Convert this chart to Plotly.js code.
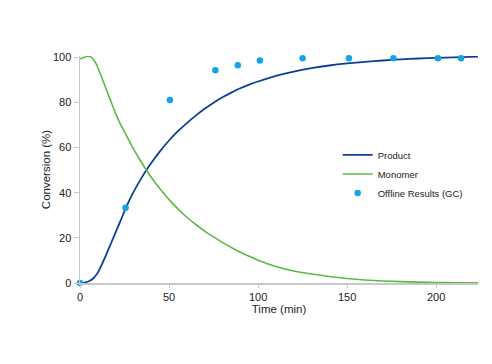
<!DOCTYPE html>
<html>
<head>
<meta charset="utf-8">
<script src="https://cdn.plot.ly/plotly-3.0.1.min.js"></script>
<style>html,body{margin:0;padding:0;background:#fff;}#chart{width:492px;height:364px;}</style>
</head>
<body>
<div id="chart"></div>
<script>
var productTime = [0, 2.5, 5, 7.5, 10, 12.5, 15, 17.5, 20, 22.5, 25, 27.5, 30, 32.5, 35, 37.5, 40, 45, 50, 55, 60, 65, 70, 75, 80, 85, 90, 95, 100, 110, 120, 130, 140, 150, 160, 170, 180, 190, 200, 210, 223.5];
var productValues = [0, 0.2, 0.8, 2.1, 4.6, 8.6, 13.1, 17.7, 22.4, 27.1, 31.8, 36.2, 40.2, 43.8, 47.1, 50.2, 53.1, 58.4, 63.1, 67.2, 70.8, 74.1, 77.1, 79.8, 82.2, 84.3, 86.2, 87.8, 89.2, 91.7, 93.6, 95.1, 96.3, 97.2, 97.9, 98.5, 99.0, 99.4, 99.7, 99.9, 100.2];

var monomerTime = [0, 1, 2, 3, 4, 5, 6, 7, 8, 9, 10, 11, 13, 15, 17.5, 20, 22.5, 25, 27.5, 30, 32.5, 35, 37.5, 40, 45, 50, 55, 60, 65, 70, 75, 80, 85, 90, 95, 100, 110, 120, 130, 140, 150, 160, 170, 180, 190, 200, 210, 223.5];
var monomerValues = [99.3, 99.5, 99.8, 100.1, 100.3, 100.35, 100.1, 99.5, 98.5, 97.1, 95.4, 93.5, 89.4, 85.2, 80.1, 75.1, 70.7, 66.9, 63.1, 59.4, 56.0, 52.8, 49.7, 46.8, 41.6, 36.9, 32.8, 29.1, 25.9, 23.0, 20.4, 18.0, 15.7, 13.6, 11.8, 10.1, 7.3, 5.3, 4.0, 2.9, 2.0, 1.35, 0.9, 0.6, 0.38, 0.22, 0.12, 0.05];

var gcTime = [0, 25.6, 50.5, 76, 88.6, 101, 125, 151, 176, 201, 214];
var gcValues = [0, 33.3, 81, 94.2, 96.4, 98.5, 99.5, 99.5, 99.5, 99.5, 99.5];

var xTicks = [0, 50, 100, 150, 200];
var yTicks = [0, 20, 40, 60, 80, 100];

var traces = [
  {x: productTime, y: productValues, type: 'scatter', mode: 'lines', name: 'Product',
   line: {color: '#0f3f95', width: 1.8, shape: 'spline', smoothing: 0.5}},
  {x: monomerTime, y: monomerValues, type: 'scatter', mode: 'lines', name: 'Monomer',
   line: {color: '#5cb947', width: 1.6, shape: 'spline', smoothing: 0.5}},
  {x: gcTime, y: gcValues, type: 'scatter', mode: 'markers', name: 'Offline Results (GC)',
   marker: {color: '#15a3e6', size: 6.5}, cliponaxis: false}
];

var layout = {
  width: 492, height: 364,
  margin: {l: 80, r: 14, t: 56, b: 81},
  paper_bgcolor: '#fff', plot_bgcolor: '#fff',
  font: {family: 'Liberation Sans, Arial, sans-serif', size: 11, color: '#222'},
  showlegend: true,
  legend: {x: 0.6475, y: 0.628, xanchor: 'left', yanchor: 'top', bgcolor: 'rgba(0,0,0,0)',
           font: {size: 9.5, color: '#222'}, itemwidth: 30, tracegroupgap: 0},
  xaxis: {range: [0, 223.5], tickvals: xTicks, ticktext: xTicks.map(String),
          showgrid: false, zeroline: false, showline: true, linecolor: '#c8c8c8', linewidth: 1.5,
          ticks: 'outside', ticklen: 3, tickcolor: '#c8c8c8', tickwidth: 1,
          title: {text: 'Time (min)', font: {size: 11.5}, standoff: 2}},
  yaxis: {range: [0, 100.5], tickvals: yTicks, ticktext: yTicks.map(String),
          showgrid: false, zeroline: false, showline: true, linecolor: '#c8c8c8', linewidth: 1.5,
          ticks: 'outside', ticklen: 5, tickcolor: '#c8c8c8', tickwidth: 1,
          title: {text: 'Conversion (%)', font: {size: 11.5}, standoff: 0}}
};

Plotly.newPlot('chart', traces, layout, {displayModeBar: false, staticPlot: true});
</script>
</body>
</html>
